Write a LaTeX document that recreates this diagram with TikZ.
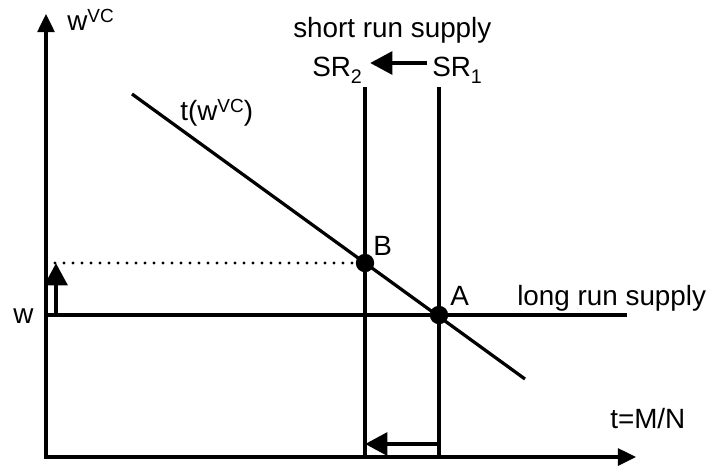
\documentclass[tikz,border=0pt]{standalone}
\usepackage{fontspec}
\setmainfont{Liberation Sans}
\usetikzlibrary{arrows.meta}
\tikzset{
  axis/.style={line width=2.3pt,
    {Triangle[length=0.45cm,width=0.42cm]}-{Triangle[length=0.45cm,width=0.42cm]}},
  curve/.style={line width=2.3pt},
  move/.style={line width=3.5pt, -{Triangle[length=0.56cm,width=0.56cm]}},
  guide/.style={line width=2.4pt, dash pattern=on 0pt off 6.4pt, line cap=round},
  eqpt/.style={circle, fill=black, inner sep=0pt, minimum size=0.46cm},
  lbl/.style={inner sep=0pt, anchor=base west, font=\fontsize{19.8}{23}\selectfont},
}
\newcommand{\upidx}[1]{\raisebox{5.5pt}{\fontsize{13.5}{13.5}\selectfont #1}}
\newcommand{\lowidx}[1]{\raisebox{-5pt}{\fontsize{14}{14}\selectfont #1}}

\begin{document}
\begin{tikzpicture}[x=0.025cm, y=-0.025cm]
\useasboundingbox (0,0) rectangle (713,468);

% ---- axes
\coordinate (O)    at (46,457);
\coordinate (Yend) at (46,14);
\coordinate (Xend) at (636,457);
\draw[axis] (Yend) -- (O) -- (Xend);
\node[lbl] (YLAB) at (67,30)   {w\upidx{VC}};
\node[lbl] (XLAB) at (610,428) {t=M/N};

% ---- equilibrium points
\coordinate (A) at (439,315);
\coordinate (B) at (365,263);

% ---- short run supply
\coordinate (SR1top) at (439,87);
\coordinate (SR2top) at (365,87);
\draw[curve] (SR1top) -- (SR1top |- O);
\draw[curve] (SR2top) -- (SR2top |- O);
\node[lbl] (SRLAB) at (293,37) {short run supply};
\node[lbl] (SR2) at (312,76) {SR\lowidx{2}};
\node[lbl] (SR1) at (432,76) {SR\lowidx{1}};
\coordinate (shift0) at (427,63);
\coordinate (shift1) at (370,63);
\draw[move] (shift0) -- (shift1);

% ---- long run supply
\coordinate (LRend) at (627,315);
\draw[curve] (O |- A) -- (LRend);
\node[lbl] (LRLAB) at (517,305) {long run supply};
\node[lbl] (WLAB) at (13,323) {w};

% ---- demand t(w^VC)
\coordinate (Dtop) at (132,94);
\coordinate (Dbot) at (525,379);
\draw[curve] (Dtop) -- (Dbot);
\node[lbl] (DLAB) at (180,120) {t(w\upidx{VC})};

% ---- wage rise and shrinking t
\draw[guide] (O |- B) -- (B);
\coordinate (rise0) at (56,315);
\coordinate (rise1) at (56,263);
\draw[move] (rise0) -- (rise1);
\coordinate (fall0) at (439,444);
\coordinate (fall1) at (365,444);
\draw[move] (fall0) -- (fall1);

% ---- dots
\node[eqpt] (PA) at (A) {};
\node[eqpt] (PB) at (B) {};
\node[lbl] (ALAB) at (450,305) {A};
\node[lbl] (BLAB) at (373,255) {B};

\end{tikzpicture}
\end{document}
